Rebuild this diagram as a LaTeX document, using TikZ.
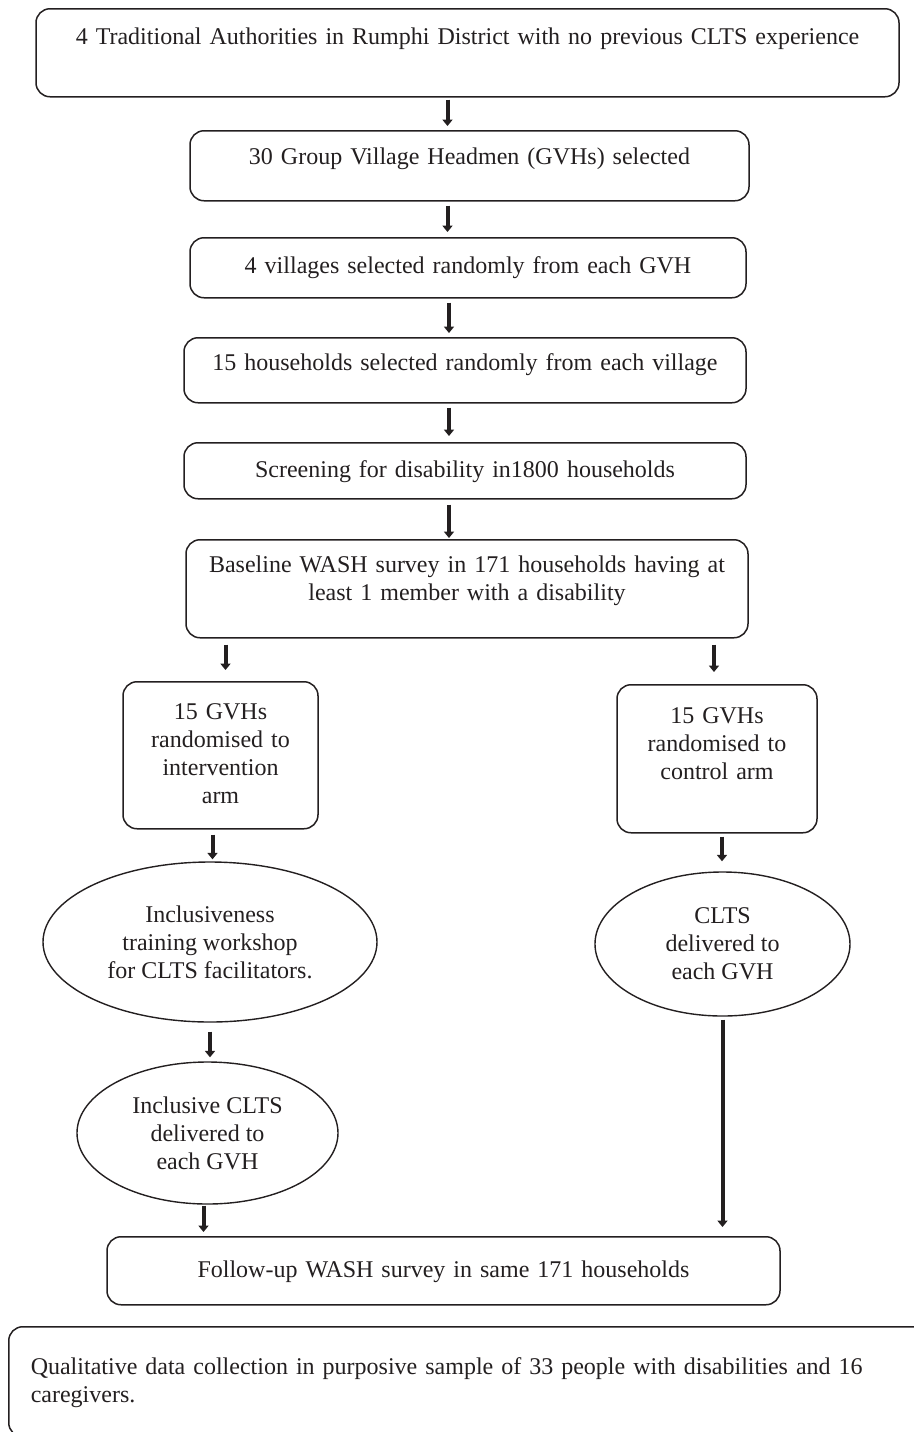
\documentclass[tikz,border=0pt]{standalone}
\usepackage{fontspec}
\setmainfont{Liberation Serif}
\usetikzlibrary{shapes.geometric}
\usetikzlibrary{arrows.meta}
\definecolor{ink}{HTML}{231F20}

\tikzset{
  box/.style={draw=ink, text=ink, rounded corners=7pt, line width=0.75pt, inner xsep=0pt,
    inner ysep=0pt, align=center, anchor=north},
  oval/.style={draw=ink, text=ink, ellipse, line width=0.7pt, inner sep=0pt, align=center},
  arr/.style={-{Triangle[length=3.2pt,width=5pt]}, draw=ink, line width=2pt,
    shorten <=2pt, shorten >=2pt},
}

\begin{document}
\begin{tikzpicture}[x=0.5pt,y=-0.5pt,font=\fontsize{12}{14}\selectfont]

      \useasboundingbox (0,0) rectangle (914,1432);
      \clip (0,0) rectangle (914,1432);

      \pgfmathsetmacro{\armIX}{220.5}
      \pgfmathsetmacro{\armCX}{717}
      \pgfmathsetmacro{\armY}{681}

      % selection steps
      \node [box, name=b1, text width=431.5pt, text height=18pt, text depth=26pt]
        at (467.5,8) {4 Traditional Authorities in Rumphi District with no previous CLTS experience};
      \node [box, name=b2, text width=279.5pt, text height=17pt, text depth=18pt]
        at (469.5,130) {30 Group Village Headmen (GVHs) selected};
      \node [box, name=b3, text width=278pt, text height=18pt, text depth=12pt]
        at (468,237) {4 villages selected randomly from each GVH};
      \node [box, name=b4, text width=281pt, text height=16.5pt, text depth=16pt]
        at (465,337) {15 households selected randomly from each village};
      \node [box, name=b5, text width=281pt, text height=17.5pt, text depth=10.5pt]
        at (465,442) {Screening for disability in1800 households};
      \node [box, name=b6, text width=281pt, text height=16.5pt, text depth=32.5pt]
        at (467,539) {Baseline WASH survey in 171 households having at\\ least 1 member with a disability};

      % arms
      \node [box, name=armI, text width=97.5pt, text height=19pt, text depth=54.5pt]
        at (\armIX,\armY) {15 GVHs\\ randomised to\\ intervention\\ arm};
      \node [box, name=armC, text width=100pt, text height=19.5pt, text depth=54.5pt]
        at (\armCX,\armY+3) {15 GVHs\\ randomised to\\ control arm};

      \node [oval, name=train, minimum width=167pt, minimum height=80pt]
        at (210,942) {Inclusiveness\\ training workshop\\ for CLTS facilitators.};
      \node [oval, name=incl, minimum width=130.5pt, minimum height=71pt]
        at (207.5,1133) {Inclusive CLTS\\ delivered to\\ each GVH};
      \node [oval, name=clts, minimum width=127.5pt, minimum height=72pt]
        at (722.5,944) {CLTS\\ delivered to\\ each GVH};

      % follow-up
      \node [box, name=fu, text width=336.5pt, text height=20.5pt, text depth=13.5pt]
        at (443.5,1236) {Follow-up WASH survey in same 171 households};
      \node [box, name=qual, anchor=north west, align=left, inner xsep=11pt,
        text width=439pt, text height=24pt, text depth=31pt]
        at (8,1326) {Qualitative data collection in purposive sample of 33 people with disabilities and 16\\ caregivers.};

      \draw [arr, shorten <=1pt] ([xshift=-10pt]b1.south) -- ([xshift=-10pt]b1.south |- b2.north);
      \draw [arr, shorten >=2.5pt] ([xshift=-11pt]b2.south) -- ([xshift=-11pt]b2.south |- b3.north);
      \draw [arr] ([xshift=-9.5pt]b3.south) -- ([xshift=-9.5pt]b3.south |- b4.north);
      \draw [arr, shorten >=3pt] ([xshift=-8pt]b4.south) -- ([xshift=-8pt]b4.south |- b5.north);
      \draw [arr, shorten <=2.5pt, shorten >=0.5pt] ([xshift=-8pt]b5.south) -- ([xshift=-8pt]b5.south |- b6.north);

      \draw [arr, shorten <=3pt, shorten >=5.5pt] ([xshift=2.5pt]armI.north |- b6.south) -- ([xshift=2.5pt]armI.north);
      \draw [arr, shorten <=3pt, shorten >=6pt] ([xshift=-1.5pt]armC.north |- b6.south) -- ([xshift=-1.5pt]armC.north);

      \draw [arr, shorten <=2.5pt, shorten >=1pt] ([xshift=-4pt]armI.south) -- ([xshift=-4pt]armI.south |- train.north);
      \draw [arr, shorten <=1.5pt, shorten >=5pt] ([xshift=2.5pt]armC.south) -- ([xshift=2.5pt]armC.south |- clts.north);
      \draw [arr, shorten <=4.5pt] (train.south) -- (train.south |- incl.north);
      \draw [arr, shorten <=0.5pt] ([xshift=-2pt]incl.south) -- ([xshift=-2pt]incl.south |- fu.north);
      \draw [arr, shorten <=1.5pt, shorten >=4.5pt] (clts.south) -- (clts.south |- fu.north);

\end{tikzpicture}
\end{document}
